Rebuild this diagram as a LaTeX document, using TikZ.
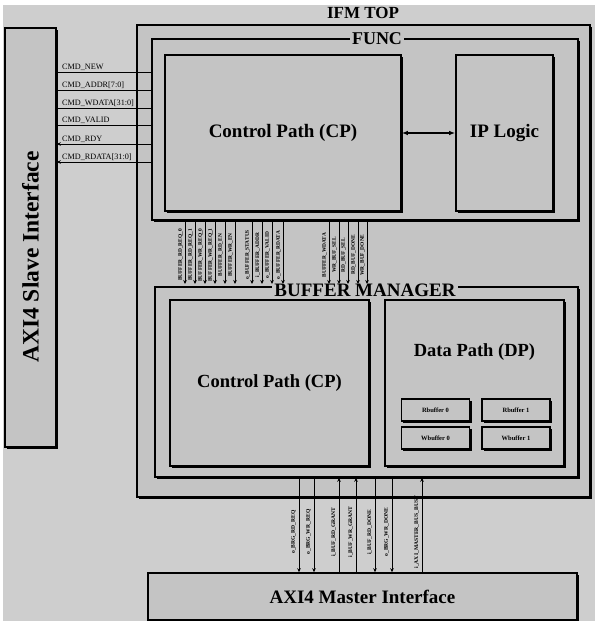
\documentclass[tikz,border=0pt]{standalone}
\usepackage{fontspec}
\setmainfont{Liberation Serif}
\usetikzlibrary{shadows, arrows.meta}

\definecolor{pagegray}{RGB}{206,206,206}
\definecolor{boxgray}{RGB}{196,196,196}

\tikzset{
  blk/.style={draw, line width=1.6pt, fill=boxgray, inner sep=0pt,
    drop shadow={shadow xshift=2.4pt, shadow yshift=-2.4pt, fill=black, opacity=1}},
  bufblk/.style={blk, line width=1.2pt, minimum width=68pt, minimum height=22pt,
    font=\bfseries\fontsize{6.5}{7}\selectfont,
    drop shadow={shadow xshift=1.6pt, shadow yshift=-1.6pt, fill=black, opacity=1}},
  big/.style={font=\bfseries\fontsize{19}{21}\selectfont},
  ttl/.style={font=\bfseries\fontsize{18}{20}\selectfont, fill=boxgray, inner sep=2pt},
  sig/.style={line width=0.8pt},
  lbl/.style={font=\fontsize{8.2}{9}\selectfont, anchor=south west, inner sep=1pt},
  vlbl/.style={font=\bfseries\fontsize{5.4}{6}\selectfont, rotate=90, inner sep=0pt},
}

\begin{document}
\begin{tikzpicture}[x=1pt, y=-1pt, >={Stealth[length=4pt, width=3.6pt]}]
\useasboundingbox (0,0) rectangle (595,621);
\fill[pagegray] (3,5) rectangle (595,621);

% outer blocks
\node[blk, minimum width=51pt, minimum height=419pt] (slave) at (30.5,237.5) {};
\node[font=\bfseries\fontsize{23.5}{25}\selectfont, rotate=90] (slavetext) at (30.5,257) {AXI4 Slave Interface};
\node[blk, minimum width=453pt, minimum height=472pt] (ifmtop) at (363.5,261) {};
\node[font=\bfseries\fontsize{17}{19}\selectfont] (ifmtitle) at (363,13) {IFM TOP};

% FUNC
\node[blk, minimum width=426pt, minimum height=181pt] (func) at (365,129.5) {};
\node[ttl] (functitle) at (377,39) {FUNC};
\node[blk, big, minimum width=236pt, minimum height=156pt] (fcp) at (283,133) {Control Path (CP)};
\node[blk, big, minimum width=97pt, minimum height=156pt] (iplogic) at (504.5,133) {IP Logic};
\draw[line width=2.2pt, {Latex[length=6pt]}-{Latex[length=6pt]}] (fcp.east) -- (iplogic.west);

% BUFFER MANAGER
\node[blk, minimum width=423pt, minimum height=190pt] (bm) at (366.5,382) {};
\node[ttl, font=\bfseries\fontsize{19}{21}\selectfont] (bmtitle) at (365,290) {BUFFER MANAGER};
\node[blk, big, font=\bfseries\fontsize{18.5}{20}\selectfont, minimum width=199pt, minimum height=166pt] (bcp) at (269.5,383) {Control Path (CP)};
\node[blk, minimum width=179pt, minimum height=166pt] (dp) at (474.5,383) {};
\node[big, font=\bfseries\fontsize{18.5}{20}\selectfont] (dptext) at (474.5,352) {Data Path (DP)};
\node[bufblk] (rbuf0) at (435.5,410) {Rbuffer 0};
\node[bufblk] (rbuf1) at (516,410) {Rbuffer 1};
\node[bufblk] (wbuf0) at (435.5,438) {Wbuffer 0};
\node[bufblk] (wbuf1) at (516,438) {Wbuffer 1};

\node[blk, big, minimum width=429pt, minimum height=47pt] (master) at (362.5,596.5) {AXI4 Master Interface};

% slave <-> func
\foreach \nm/\yy/\dir [count=\i] in {CMD\_NEW/72/-, CMD\_ADDR[7:0]/90/-, CMD\_WDATA[31:0]/108/-,
    CMD\_VALID/125/-, CMD\_RDY/144/<-, CMD\_RDATA[31:0]/162/<-} {
  \coordinate (c\i) at (0,\yy);
  \draw[sig,\dir] (slave.east |- c\i) -- (func.west |- c\i);
  \node[lbl] (cl\i) at (61,\yy) {\nm};
}

% func -> buffer manager
\foreach \xx/\nm [count=\i] in {185/BUFFER\_RD\_REQ\_0, 195/BUFFER\_RD\_REQ\_1, 205/BUFFER\_WR\_REQ\_0,
    215/BUFFER\_WR\_REQ\_1, 225/BUFFER\_RD\_EN, 235/BUFFER\_WR\_EN, 252/o\_BUFFER\_STATUS,
    262/i\_BUFFER\_ADDR, 272/o\_BUFFER\_VALID, 283/o\_BUFFER\_RDATA, 329/BUFFER\_WDATA,
    339/WR\_BUF\_SEL, 348/RD\_BUF\_SEL, 358/RD\_BUF\_DONE, 367/WR\_BUF\_DONE} {
  \coordinate (t\i) at (\xx,284);
  \draw[sig,->] (func.south -| t\i) -- (t\i);
  \node[vlbl] (tl\i) at (\xx-4.5,255) {\nm};
}

% buffer manager <-> master
\foreach \xx/\nm/\dir [count=\i] in {299/o\_BRG\_RD\_REQ/->, 314/o\_BRG\_WR\_REQ/->,
    339/i\_BUF\_RD\_GRANT/<-, 356/i\_BUF\_WR\_GRANT/<-, 375/i\_BUF\_RD\_DONE/->,
    392/o\_BRG\_WR\_DONE/->, 422/i\_AXI\_MASTER\_BUS\_BUSY/<-} {
  \coordinate (b\i) at (\xx,0);
  \draw[sig,\dir] (bm.south -| b\i) -- (master.north -| b\i);
  \node[vlbl, font=\bfseries\fontsize{5.6}{6}\selectfont] (bl\i) at (\xx-5.5,532) {\nm};
}
\end{tikzpicture}
\end{document}
